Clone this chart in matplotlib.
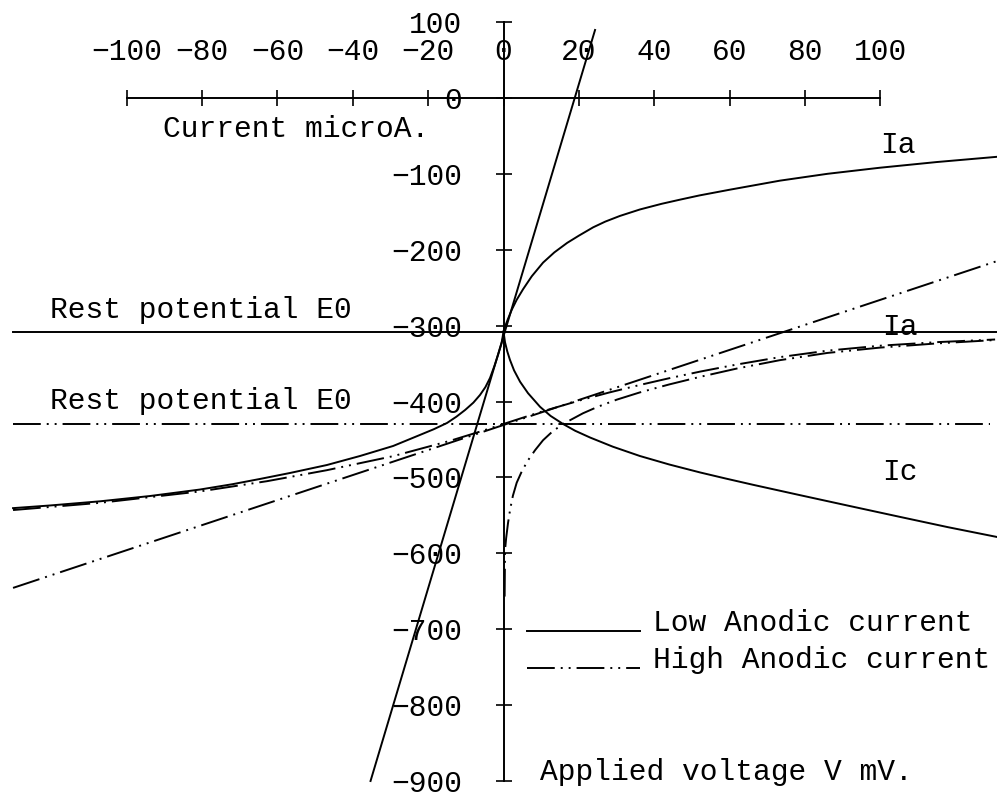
import matplotlib
matplotlib.use("Agg")
import matplotlib.pyplot as plt

# current in microA (x) against applied voltage in mV (y)
x_ticks = [-100, -80, -60, -40, -20, 0, 20, 40, 60, 80, 100]
y_ticks = [100, 0, -100, -200, -300, -400, -500, -600, -700, -800, -900]

E0_low = -308
E0_high = -430

# low anodic current (solid)
ia_low_I = [0, 0.5, 1.2, 2.2, 3.5, 5.2, 7.5, 10.5, 13.5, 16.9, 20.0, 23.8, 27.0, 30.9, 36.2, 42.0, 46.9, 52.0, 60.0, 73.4, 86.0, 99.9, 115.0, 131.0]
ia_low_V = [-308, -300, -291, -279, -266, -252, -235, -217, -203.5, -191, -181.5, -170.5, -163, -155.5, -147, -139.5, -134, -128.5, -121, -109, -100, -92, -84.5, -77.6]

ic_I = [0, 0.4, 1.0, 1.7, 2.8, 4.4, 6.5, 9.7, 12.5, 15.8, 19.0, 23.0, 29.0, 36.2, 44.0, 52.2, 59.0, 66.3, 78.8, 92.0, 105.4, 118.0, 131.0]
ic_V = [-308, -322, -334, -345, -359, -374, -389, -407, -419, -429.6, -438.5, -447.5, -459.5, -471.8, -483, -493.5, -501.5, -509.8, -523.5, -537.8, -552.2, -565.6, -578.5]

net_low_I = [0, -0.5, -1.46, -2.4, -3.58, -4.8, -6.24, -8.0, -10.2, -12.5, -15.0, -18.5, -22.2, -29.3, -38.1, -46.9, -56.7, -64.6, -72.0, -80.6, -93.8, -107.1, -120.4, -130.2]
net_low_V = [-308, -323, -338.7, -353, -369, -381, -391.4, -401.5, -411.2, -420, -428.3, -436.5, -444.1, -458.6, -471.8, -483.7, -494.2, -502, -509, -516, -524.5, -531.5, -537, -540.5]

rp_low_I = [-35.3, 24.3]
rp_low_V = [-900, 89.5]

# high anodic current (dash-dot)
ia_high_I = [0.3, 0.4, 0.7, 1.2, 1.8, 2.5, 3.5, 4.9, 6.5, 8.4, 10.5, 13.0, 15.8, 21.1, 25.0, 30.1, 36.2, 44.0, 52.2, 62.0, 73.4, 86.0, 99.9, 115.0, 130.5]
ia_high_V = [-657, -596, -580, -560, -541, -524, -507, -491.5, -477.5, -464, -451, -439.5, -429.6, -415.5, -407, -397.5, -388, -377.5, -367.5, -356.5, -345.5, -336, -329, -323.5, -319]

net_high_I = [-130.2, -107.1, -80.6, -62.8, -46.9, -29.3, -14.2, -6.2, 0, 9.7, 20.3, 28.0, 36.2, 44.0, 52.2, 62.0, 73.4, 86.0, 99.9, 115.0, 130.5]
net_high_V = [-543, -533.5, -518.5, -505, -490.5, -472, -451.8, -439.6, -429.6, -414, -398.5, -388.2, -378.2, -369.3, -360.6, -351.2, -341.5, -333, -326.5, -321.8, -318.3]

rp_high_I = [-130.2, 131.0]
rp_high_V = [-645.6, -215]

plt.rcParams['font.family'] = ['Liberation Mono', 'DejaVu Sans Mono']
plt.rcParams['lines.scale_dashes'] = False

fs = 21.3
lw = 1.4
dashdot = (0, (20, 4.3, 1.4, 4.3, 1.4, 4.3))

fig = plt.figure(figsize=(9.97, 7.92), dpi=100)
ax = fig.add_axes([0, 0, 1, 1])
ax.set_xlim(-133.66, 131.0)
ax.set_ylim(-914.5, 129.0)

# axes drawn through the origin
ax.spines['right'].set_visible(False)
ax.spines['bottom'].set_visible(False)
ax.spines['top'].set_position(('data', 0))
ax.spines['top'].set_bounds(-100, 100)
ax.spines['left'].set_position(('data', 0))
ax.spines['left'].set_bounds(-900, 100)
for s in ('top', 'left'):
    ax.spines[s].set_linewidth(lw)
ax.xaxis.set_ticks_position('top')
ax.yaxis.set_ticks_position('left')
ax.set_xticks(x_ticks)
ax.set_yticks(y_ticks)
ax.tick_params(direction='inout', length=11.5, width=1.2, labelsize=fs)
ax.tick_params(axis='x', pad=17)
ax.tick_params(axis='y', pad=24)
ax.patch.set_visible(False)

# rest potentials
ax.plot([-130.2, 131.0], [E0_low, E0_low], color='k', lw=lw)
ax.plot([-130.2, 129.1], [E0_high, E0_high], color='k', lw=lw, ls=dashdot)

ax.plot(ia_low_I, ia_low_V, color='k', lw=lw)
ax.plot(ic_I, ic_V, color='k', lw=lw)
ax.plot(net_low_I, net_low_V, color='k', lw=lw)
ax.plot(rp_low_I, rp_low_V, color='k', lw=lw)

ax.plot(ia_high_I, ia_high_V, color='k', lw=lw, ls=dashdot)
ax.plot(net_high_I, net_high_V, color='k', lw=lw, ls=dashdot)
ax.plot(rp_high_I, rp_high_V, color='k', lw=lw, ls=dashdot)

ax.text(-90.4, -51.5, 'Current microA.', fontsize=fs, va='baseline')
ax.text(-120.4, -290.4, 'Rest potential E0', fontsize=fs, va='baseline')
ax.text(-120.4, -410.3, 'Rest potential E0', fontsize=fs, va='baseline')
ax.text(100, -73, 'Ia', fontsize=fs, va='baseline')
ax.text(100.5, -312.4, 'Ia', fontsize=fs, va='baseline')
ax.text(100.5, -503.6, 'Ic', fontsize=fs, va='baseline')

# key
ax.plot([6.2, 36.2], [-702, -702], color='k', lw=lw)
ax.text(39.7, -702, 'Low Anodic current', fontsize=fs, va='baseline')
ax.plot([6.2, 36.2], [-751.5, -751.5], color='k', lw=lw, ls=dashdot)
ax.text(39.7, -751.5, 'High Anodic current', fontsize=fs, va='baseline')

ax.text(9.7, -898.7, 'Applied voltage V mV.', fontsize=fs, va='baseline')

fig.savefig('out.png', dpi=100, facecolor='white')
